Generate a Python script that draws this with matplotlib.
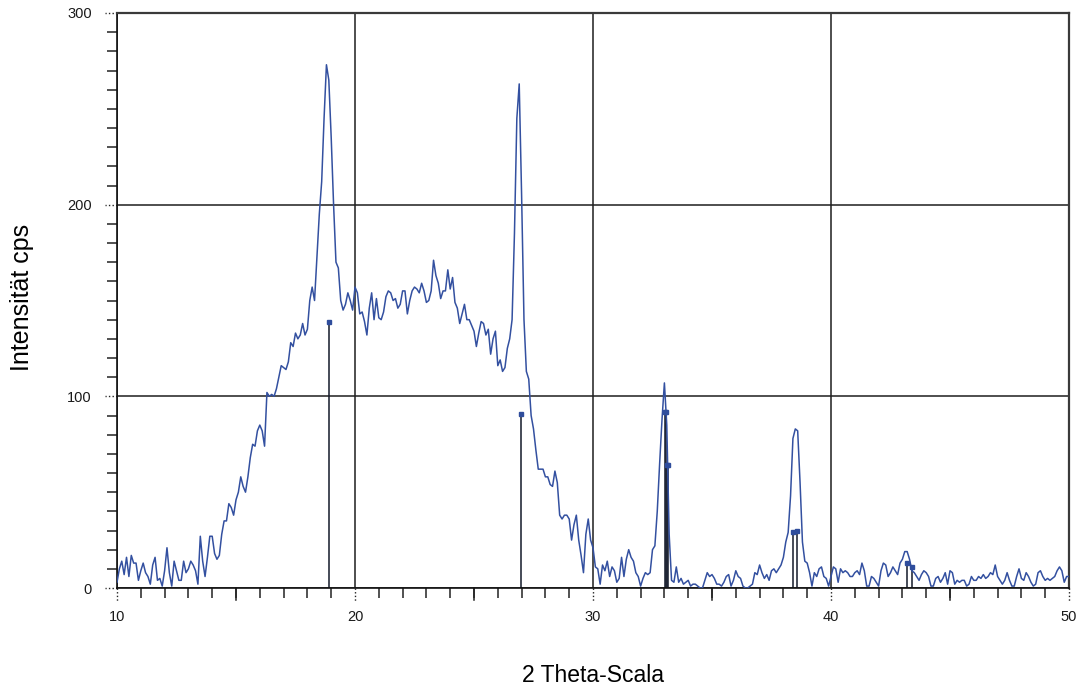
import numpy as np
import matplotlib.pyplot as plt
from matplotlib.ticker import MultipleLocator

plt.rcParams['font.family'] = ['Liberation Sans', 'DejaVu Sans']

# measured scan, 2-theta 10..50 deg in 0.1 deg steps
theta_start = 10.0
theta_step = 0.1
counts = [
    3, 10, 14, 7, 16, 6, 17, 13, 13, 4,              # 10
    9, 13, 8, 6, 2, 12, 16, 4, 5, 1,                 # 11
    9, 21, 8, 1, 14, 9, 4, 4, 14, 8,                 # 12
    10, 14, 12, 9, 2, 27, 14, 6, 16, 27,             # 13
    27, 18, 15, 17, 28, 35, 35, 44, 42, 38,          # 14
    46, 50, 58, 53, 50, 58, 68, 75, 74, 82,          # 15
    85, 82, 74, 102, 100, 101, 100, 104, 110, 116,   # 16
    115, 114, 118, 128, 126, 133, 130, 132, 138, 132,  # 17
    135, 150, 157, 150, 172, 195, 212, 245, 273, 265,  # 18
    235, 200, 170, 167, 150, 145, 148, 154, 150, 145,  # 19
    157, 154, 143, 144, 139, 132, 146, 154, 140, 151,  # 20
    141, 140, 144, 152, 155, 154, 150, 151, 146, 148,  # 21
    155, 155, 143, 150, 155, 157, 156, 154, 159, 155,  # 22
    149, 150, 155, 171, 163, 159, 151, 155, 155, 166,  # 23
    156, 162, 149, 146, 138, 143, 148, 140, 140, 137,  # 24
    134, 126, 133, 139, 138, 132, 135, 122, 130, 134,  # 25
    116, 119, 113, 115, 125, 130, 140, 185, 245, 263,  # 26
    205, 140, 113, 109, 90, 83, 72, 62, 62, 62,      # 27
    58, 58, 54, 53, 61, 55, 38, 36, 38, 38,          # 28
    36, 25, 33, 38, 25, 17, 8, 28, 36, 25,           # 29
    21, 11, 10, 2, 12, 9, 14, 6, 11, 9,              # 30
    3, 5, 16, 6, 15, 20, 16, 14, 8, 6,               # 31
    1, 5, 8, 7, 8, 20, 22, 40, 65, 88,               # 32
    107, 85, 28, 4, 3, 11, 3, 5, 2, 3,               # 33
    4, 1, 2, 2, 1, 0, 0, 4, 8, 6,                    # 34
    7, 5, 2, 2, 1, 3, 6, 7, 1, 4,                    # 35
    9, 6, 5, 1, 0, 0, 1, 2, 8, 7,                    # 36
    12, 8, 5, 7, 4, 9, 10, 8, 10, 12,                # 37
    16, 24, 29, 48, 78, 83, 82, 55, 24, 14,          # 38
    13, 8, 1, 8, 6, 10, 11, 6, 5, 1,                 # 39
    6, 11, 10, 3, 10, 8, 9, 8, 6, 6,                 # 40
    8, 9, 7, 13, 9, 1, 1, 6, 5, 3,                   # 41
    1, 9, 13, 12, 6, 8, 11, 9, 7, 13,                # 42
    15, 19, 19, 15, 9, 8, 6, 4, 7, 9,                # 43
    8, 6, 1, 1, 5, 6, 3, 5, 8, 2,                    # 44
    9, 8, 2, 4, 3, 4, 4, 1, 2, 6,                    # 45
    4, 4, 6, 5, 7, 5, 6, 8, 7, 12,                   # 46
    6, 4, 2, 4, 8, 4, 1, 1, 6, 10,                   # 47
    5, 4, 8, 6, 3, 1, 2, 8, 9, 6,                    # 48
    4, 5, 4, 5, 6, 9, 11, 9, 3, 6,                   # 49
    6,                                               # 50
]
theta = theta_start + theta_step * np.arange(len(counts))

# reference pattern lines
ref_theta = [18.92, 26.99, 33.02, 33.05, 33.13, 33.16, 38.39, 38.56, 43.21, 43.39]
ref_int = [139, 91, 92, 92, 64, 64, 29, 30, 13, 11]

fig = plt.figure(figsize=(10.77, 6.89), dpi=100)
W, H = 1077, 689
ax = fig.add_axes([117 / W, 1 - 588 / H, (1069 - 117) / W, (588 - 13) / H])

ax.vlines(ref_theta, 0, ref_int, color='#141a2a', lw=1.1, zorder=2)
ax.plot(theta, counts, color='#3350a0', lw=1.1, zorder=3)
ax.plot(ref_theta, ref_int, ls='none', marker='s', ms=3.3, color='#2f4d9c', zorder=4)

ax.set_xlim(10, 50)
ax.set_ylim(0, 300)
ax.xaxis.set_major_locator(MultipleLocator(10))
ax.xaxis.set_minor_locator(MultipleLocator(1))
ax.yaxis.set_major_locator(MultipleLocator(100))
ax.yaxis.set_minor_locator(MultipleLocator(10))

ax.tick_params(which='major', length=0, labelsize=10.5, labelcolor='#1a1a1a')
ax.tick_params(axis='x', which='major', pad=16)
ax.tick_params(axis='y', which='major', pad=18)
ax.tick_params(which='minor', direction='out', length=7, width=1.1, color='#222222')
ax.grid(which='major', color='#1e1e1e', lw=1.1)
ax.set_axisbelow(True)

for side in ('left', 'bottom'):
    ax.spines[side].set_color('#111111')
    ax.spines[side].set_linewidth(1.2)
for side in ('top', 'right'):
    ax.spines[side].set_color('#3a3a3a')
    ax.spines[side].set_linewidth(1.6)

# dotted major ticks, longer solid ticks at the halves
xt = ax.get_xaxis_transform()
yt = ax.get_yaxis_transform()
for v in ax.get_xticks():
    ax.plot([v, v], [0, -13 / 575], transform=xt, ls=(0, (1, 1.6)),
            color='#222222', lw=1.0, clip_on=False)
for v in ax.get_xticks()[:-1] + 5:
    ax.plot([v, v], [0, -12 / 575], transform=xt,
            color='#222222', lw=1.1, clip_on=False)
for v in ax.get_yticks():
    ax.plot([0, -12 / 952], [v, v], transform=yt, ls=(0, (1, 1.6)),
            color='#222222', lw=1.0, clip_on=False)

fig.text(593 / W, 1 - 675 / H, '2 Theta-Scala', ha='center', va='center', fontsize=16.5)
fig.text(22 / W, 1 - 297 / H, 'Intensität cps', rotation=90,
         ha='center', va='center', fontsize=18)

fig.savefig('out.png', dpi=100)
